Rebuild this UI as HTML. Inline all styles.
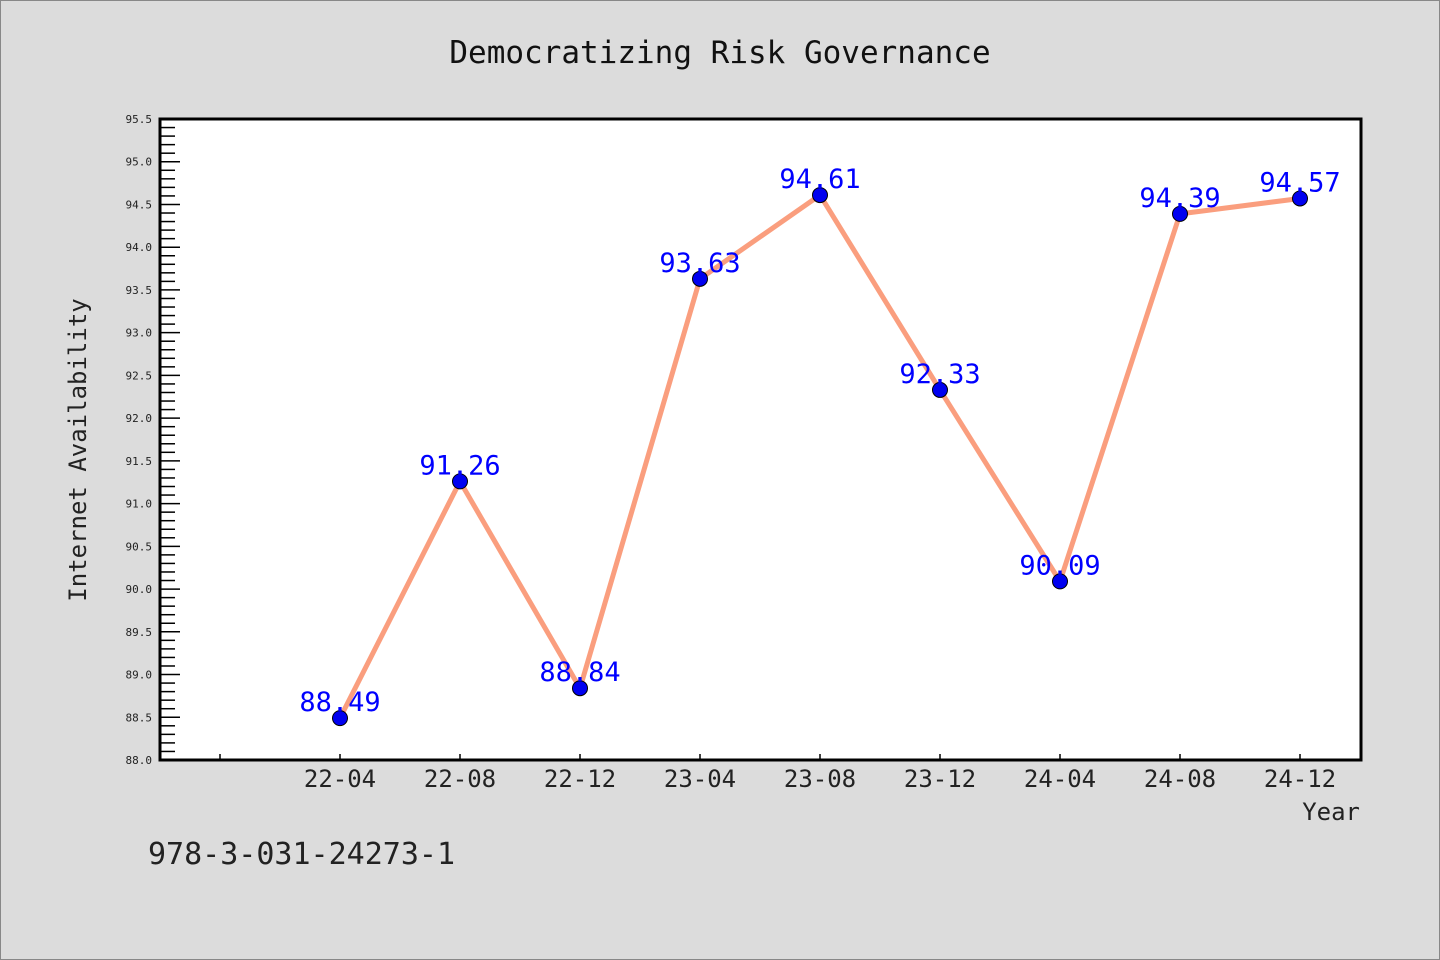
<!DOCTYPE html>
<html><head><meta charset="utf-8"><style>
body{margin:0;background:#dcdcdc;}
svg{display:block;font-family:"DejaVu Sans Mono","Liberation Mono",monospace;}
</style></head><body>
<svg width="1440" height="960">
<rect x="0.5" y="0.5" width="1439" height="959" fill="#dcdcdc" stroke="#888"/>
<text x="720" y="63" text-anchor="middle" font-size="31" fill="#111">Democratizing Risk Governance</text>
<rect x="160" y="119" width="1201" height="641" fill="#fff"/>
<g id="yaxis"></g>
<g id="xaxis"></g>
<g id="series"></g>
<rect x="160" y="119" width="1201" height="641" fill="none" stroke="#000" stroke-width="3"/>
<text x="86" y="450" transform="rotate(-90 86 450)" text-anchor="middle" font-size="24" fill="#222">Internet Availability</text>
<text x="1360" y="820" text-anchor="end" font-size="24" fill="#222">Year</text>
<text x="148" y="864" font-size="30" fill="#222">978-3-031-24273-1</text>
</svg>
<script>
const categories=["22-04","22-08","22-12","23-04","23-08","23-12","24-04","24-08","24-12"];
const values=[88.49,91.26,88.84,93.63,94.61,92.33,90.09,94.39,94.57];
const labels=["88.49","91.26","88.84","93.63","94.61","92.33","90.09","94.39","94.57"];
const yTicks=["88.0","88.5","89.0","89.5","90.0","90.5","91.0","91.5","92.0","92.5","93.0","93.5","94.0","94.5","95.0","95.5"];
const yMin=88,yMax=95.5,plotTop=119,plotBot=760,plotLeft=160;
const NS="http://www.w3.org/2000/svg";
function yScale(v){return plotBot-(v-yMin)/(yMax-yMin)*(plotBot-plotTop);}
function xScale(i){return 340+120*i;}
function mk(t,a,p){const e=document.createElementNS(NS,t);for(const k in a)e.setAttribute(k,a[k]);p.appendChild(e);return e;}
const ya=document.getElementById('yaxis'),xa=document.getElementById('xaxis'),ser=document.getElementById('series');
for(let k=0;k<=75;k++){const v=yMin+k*0.1;const major=k%5===0;
 const t=mk('line',{x1:plotLeft,x2:plotLeft+(major?20:15),y1:yScale(v),y2:yScale(v),stroke:'#000','stroke-width':1.5},ya);
 
 }
yTicks.forEach(l=>{const t=mk('text',{x:152,y:yScale(parseFloat(l))+4,'text-anchor':'end','font-size':11,fill:'#222'},ya);t.textContent=l;
 
 });
mk('line',{x1:220,x2:220,y1:plotBot,y2:plotBot-6,stroke:'#000','stroke-width':1.5},xa);
categories.forEach((c,i)=>{const t=mk('line',{x1:xScale(i),x2:xScale(i),y1:plotBot,y2:plotBot-6,stroke:'#000','stroke-width':1.5},xa);
 
 
 const l=mk('text',{x:xScale(i),y:787,'text-anchor':'middle','font-size':24,fill:'#222'},xa);l.textContent=c;
 
 });
const line=mk('polyline',{points:values.map((v,i)=>xScale(i)+','+yScale(v)).join(' '),fill:'none',stroke:'#fa9e7e','stroke-width':5,'stroke-linejoin':'round'},ser);


values.forEach((v,i)=>{const c=mk('circle',{cx:xScale(i),cy:yScale(v),r:7.5,fill:'#0000f0',stroke:'#000','stroke-width':1},ser);
 
 });
values.forEach((v,i)=>{const t=mk('text',{x:xScale(i),y:yScale(v)-7,'text-anchor':'middle','font-size':27,fill:'#0000ff'},ser);t.textContent=labels[i];
 
 });
</script>
</body></html>
